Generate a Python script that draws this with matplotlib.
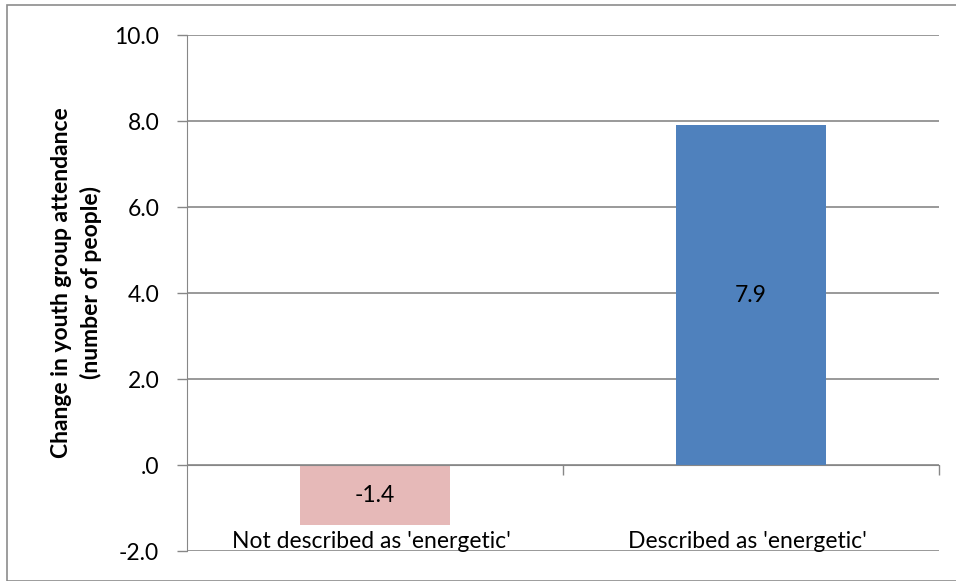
import matplotlib.pyplot as plt
from matplotlib.patches import Rectangle
from matplotlib.transforms import blended_transform_factory

# youth group attendance change by description
categories = ["Not described as 'energetic'", "Described as 'energetic'"]
values = [-1.4, 7.9]
bar_colors = ["#E6B9B8", "#4F81BD"]
yticks = [-2, 0, 2, 4, 6, 8, 10]
ytick_labels = ["-2.0", ".0", "2.0", "4.0", "6.0", "8.0", "10.0"]

plt.rcParams['font.family'] = ['Lato', 'DejaVu Sans']
grid_col = "#878787"
fs = 16.5

fig = plt.figure(figsize=(9.56, 5.81), dpi=100)
ax = fig.add_axes([187 / 956, (581 - 551) / 581, (939 - 187) / 956, (551 - 35) / 581])

# outer chart border
fig.patches.append(Rectangle((7 / 956, 0.5 / 581), 1.2, (576 - 0.5) / 581,
                             transform=fig.transFigure, fill=False,
                             edgecolor="#8c8c8c", linewidth=1.2))

x = range(len(categories))
ax.bar(x, values, width=0.40, color=bar_colors, zorder=3)

for xi, v in zip(x, values):
    ax.text(xi, v / 2, f"{v:.1f}", ha="center", va="center", fontsize=fs, zorder=4)

ax.set_xlim(-0.5, 1.5)
ax.set_ylim(-2, 10)
ax.set_yticks(yticks)
ax.set_yticklabels(ytick_labels, fontsize=fs)
ax.tick_params(axis="y", direction="out", length=7, width=1, color=grid_col, pad=13)
ax.yaxis.grid(True, color=grid_col, linewidth=1.2, zorder=0)

# category axis sits at zero with boundary tick marks
ax.spines["bottom"].set_position(("data", 0))
ax.spines["bottom"].set_color(grid_col)
ax.spines["bottom"].set_zorder(5)
ax.set_xticks([0.5, 1.5])
ax.set_xticklabels([])
ax.tick_params(axis="x", direction="out", length=7, width=1, color=grid_col)
for side in ["top", "right"]:
    ax.spines[side].set_visible(False)
ax.spines["left"].set_color(grid_col)

trans = blended_transform_factory(ax.transData, ax.transData)
for xi, name in zip(x, categories):
    ax.text(xi - 0.01, -2.02, name, ha="center", va="bottom", fontsize=fs, transform=trans)

ax.set_ylabel("Change in youth group attendance\n(number of people)",
              fontsize=fs, fontweight="bold", linespacing=1.45)
ax.yaxis.set_label_coords(-0.113, 0.52)

fig.savefig("out.png", dpi=100)
